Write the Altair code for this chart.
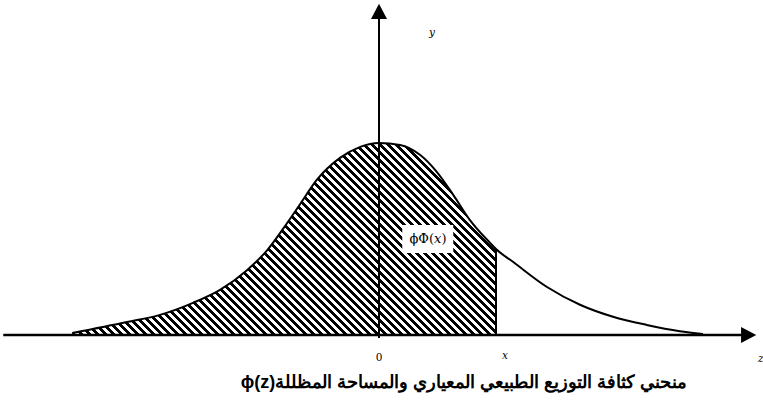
import altair as alt
import pandas as pd

# Density curve read as (z, density) pairs: the shaded part up to the cut x
z_shaded = [-4.09, -3.36, -2.92, -2.48, -2.12, -1.76, -1.49, -1.28, -1.05, -0.83,
            -0.52, -0.25, 0.0, 0.28, 0.55, 0.77, 0.99, 1.21, 1.48, 1.56]
d_shaded = [0.004, 0.027, 0.042, 0.067, 0.094, 0.135, 0.177, 0.221, 0.273, 0.323,
            0.369, 0.392, 0.400, 0.396, 0.375, 0.340, 0.292, 0.240, 0.192, 0.179]
# right tail beyond the cut
z_tail = [1.56, 1.79, 2.24, 2.68, 3.12, 3.57, 4.01, 4.32]
d_tail = [0.179, 0.152, 0.100, 0.063, 0.038, 0.021, 0.008, 0.002]

X_CUT = 1.56

# canvas / scale set-up
W, H = 763, 410
Z_ORIGIN_PX = 379
PX_PER_Z = 75.0
BASE_PX = 335
PX_PER_D = 480.0
x_domain = [-Z_ORIGIN_PX / PX_PER_Z, (W - Z_ORIGIN_PX) / PX_PER_Z]
y_domain = [-(H - BASE_PX) / PX_PER_D, BASE_PX / PX_PER_D]

xs = alt.Scale(domain=x_domain, nice=False, zero=False)
ys = alt.Scale(domain=y_domain, nice=False, zero=False)

# axis extents (z units / density units)
X_AXIS_FROM, X_AXIS_TO, X_ARROW_TIP = -5.01, 4.84, 5.03
Y_AXIS_FROM, Y_AXIS_TO, Y_ARROW_TIP = -0.006, 0.66, 0.69

# diagonal hatch built as a hard-stop linear gradient over the area's bounding box
box_w = (z_shaded[-1] - z_shaded[0]) * PX_PER_Z
box_h = max(d_shaded) * PX_PER_D
r = box_h / box_w
s = (1 + r) / (1 + r * r)
HATCH_PERIOD_PX = 8.0
n_stripes = int(round(box_w * (1 + r) / HATCH_PERIOD_PX))
stops = []
for i in range(n_stripes):
    a = i / n_stripes
    b = (i + 0.5) / n_stripes
    c = (i + 1) / n_stripes
    stops += [
        alt.GradientStop(offset=a, color="#000000"),
        alt.GradientStop(offset=b, color="#000000"),
        alt.GradientStop(offset=b, color="#ffffff"),
        alt.GradientStop(offset=c, color="#ffffff"),
    ]
hatch = alt.LinearGradient(gradient="linear", stops=stops,
                           x1=0, y1=1, x2=s, y2=1 - s * r)

shaded = pd.DataFrame({"z": z_shaded, "d": d_shaded, "base": 0.0})
curve = pd.DataFrame({"z": z_shaded + z_tail[1:], "d": d_shaded + d_tail[1:]})


def xy(chart, x="x", y="y"):
    return chart.encode(
        x=alt.X(f"{x}:Q", scale=xs, axis=None),
        y=alt.Y(f"{y}:Q", scale=ys, axis=None),
    )


area = xy(alt.Chart(shaded).mark_area(interpolate="monotone", fill=hatch), "z", "d").encode(
    y2="base:Q"
)

line = xy(alt.Chart(curve).mark_line(interpolate="monotone", color="black", strokeWidth=2), "z", "d")

cut = xy(
    alt.Chart(pd.DataFrame({"z": [X_CUT], "lo": [0.0], "hi": [d_shaded[-1]]})).mark_rule(
        color="black", strokeWidth=2
    ), "z", "lo"
).encode(y2="hi:Q")

x_axis = xy(
    alt.Chart(pd.DataFrame({"a": [X_AXIS_FROM], "b": [X_AXIS_TO], "y": [0.0]})).mark_rule(
        color="black", strokeWidth=2.5
    ), "a", "y"
).encode(x2="b:Q")
y_axis = xy(
    alt.Chart(pd.DataFrame({"x": [0.0], "a": [Y_AXIS_FROM], "b": [Y_AXIS_TO]})).mark_rule(
        color="black", strokeWidth=2
    ), "x", "a"
).encode(y2="b:Q")

up_head = xy(alt.Chart(pd.DataFrame({"x": [0.0], "y": [Y_ARROW_TIP]})).mark_point(
    shape="M0,0L-1,1.9L1,1.9Z", size=256, filled=True, color="black", opacity=1, strokeWidth=0
))
right_head = xy(alt.Chart(pd.DataFrame({"x": [X_ARROW_TIP], "y": [0.0]})).mark_point(
    shape="M0,0L-1.9,-1L-1.9,1Z", size=256, filled=True, color="black", opacity=1, strokeWidth=0
))

# axis letters
italic_letters = pd.DataFrame({
    "x": [0.707, 1.68, 5.09],
    "y": [0.629, -0.044, -0.05],
    "t": ["y", "x", "z"],
})
upright_letters = pd.DataFrame({"x": [0.0], "y": [-0.048], "t": ["0"]})

italic_text = xy(alt.Chart(italic_letters).mark_text(
    font="DejaVu Serif", fontSize=10.5, fontStyle="italic", color="black",
    align="center", baseline="middle",
)).encode(text="t:N")
upright_text = xy(alt.Chart(upright_letters).mark_text(
    font="DejaVu Serif", fontSize=10.5, color="black", align="center", baseline="middle",
)).encode(text="t:N")

# label box inside the shaded region
box = xy(alt.Chart(pd.DataFrame({"x": [0.31], "x2": [0.99], "y": [0.171], "y2": [0.229]})).mark_rect(
    color="white"
)).encode(x2="x2:Q", y2="y2:Q")
box_label = xy(alt.Chart(pd.DataFrame({"x": [0.653], "y": [0.2], "t": ["ϕΦ(𝑥)"]})).mark_text(
    font="DejaVu Serif", fontSize=13, color="black", align="center", baseline="middle"
)).encode(text="t:N")

caption = xy(alt.Chart(pd.DataFrame({
    "x": [1.133], "y": [-0.1],
    "t": ["ϕ(z)" + "منحني كثافة التوزيع الطبيعي المعياري والمساحة المظللة"],
})).mark_text(
    font="Liberation Sans", fontSize=18, fontWeight="bold", color="black",
    align="center", baseline="middle",
)).encode(text="t:N")

chart = alt.layer(
    area, cut, line, x_axis, y_axis, up_head, right_head,
    italic_text, upright_text, box, box_label, caption,
).properties(
    width=W, height=H, autosize=alt.AutoSizeParams(type="none"), padding=0,
    background="white",
).configure_view(stroke=None)

chart.save("out.html", embed_options={"renderer": "svg", "actions": False})
